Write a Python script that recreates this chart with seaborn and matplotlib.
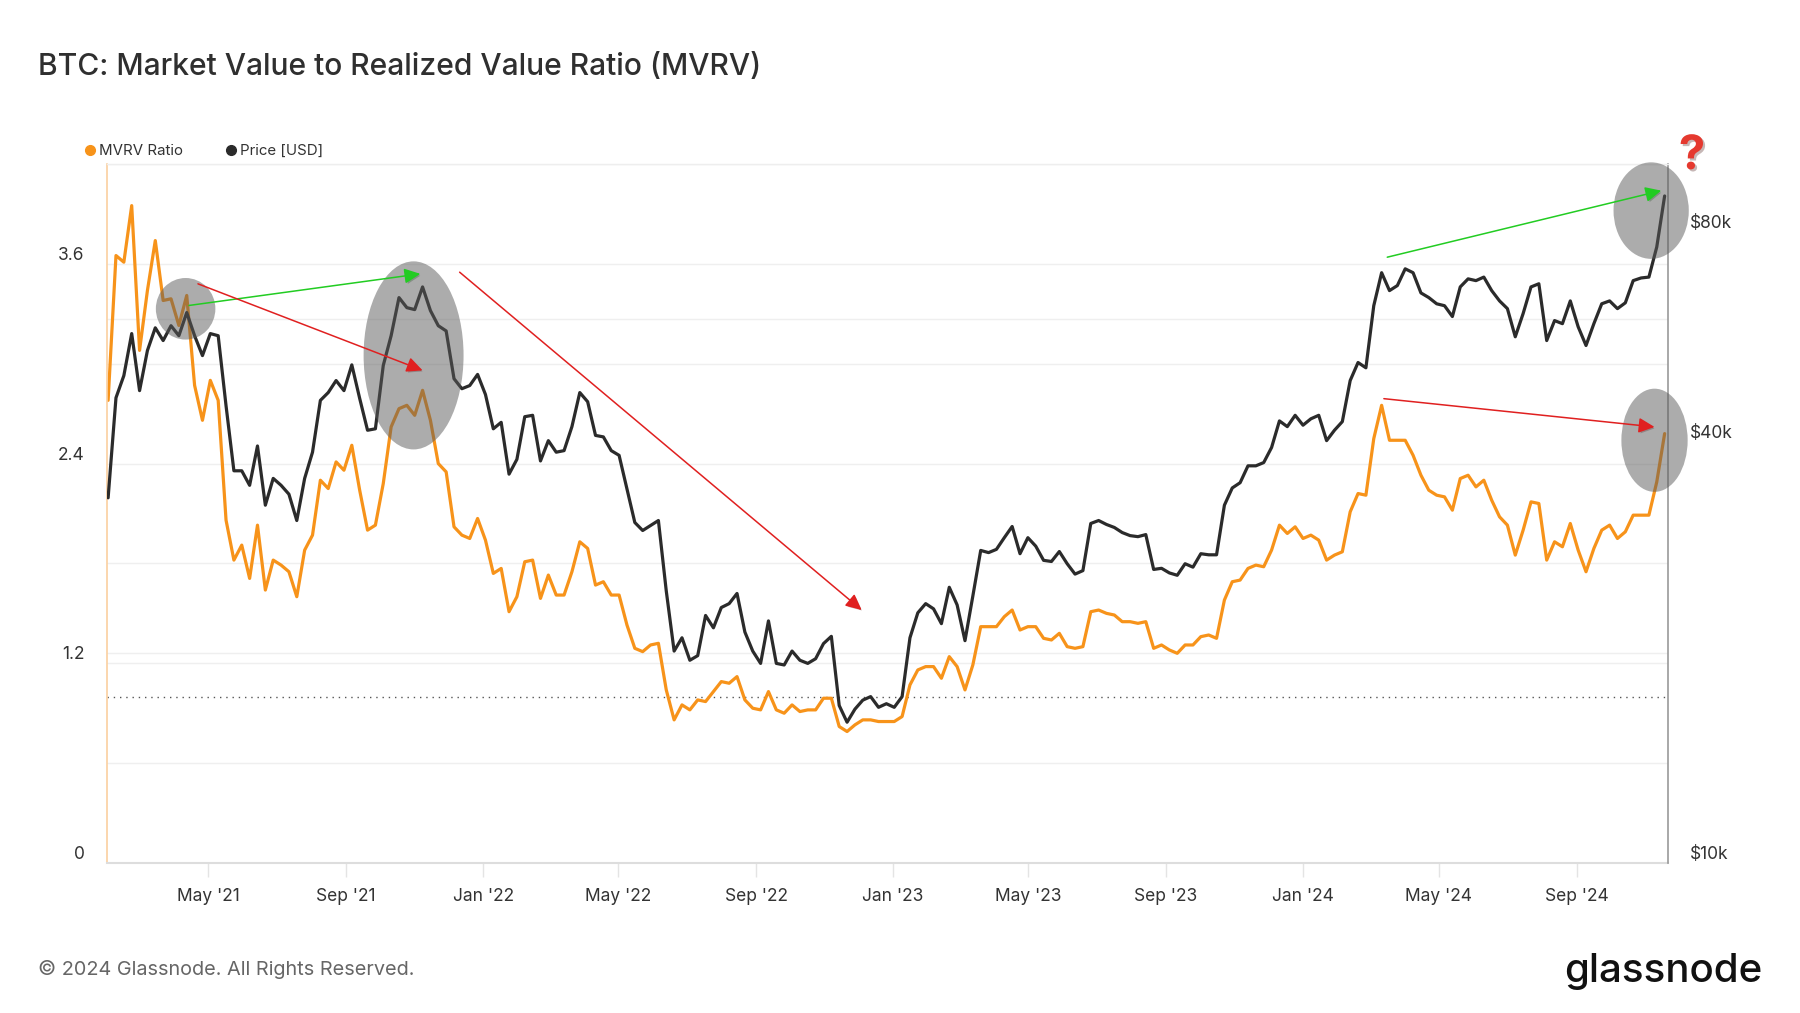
import matplotlib
matplotlib.use("Agg")
import matplotlib.pyplot as plt
import matplotlib.dates as mdates
import matplotlib.patheffects as pe
from matplotlib.patches import Ellipse, FancyArrowPatch
from matplotlib.lines import Line2D
from matplotlib.ticker import FixedLocator, NullLocator
from matplotlib.transforms import blended_transform_factory
import pandas as pd
import seaborn as sns

# weekly samples
dates = pd.date_range("2021-02-01", "2024-11-18", freq="7D")

mvrv = [
    2.78, 3.65, 3.61, 3.95, 3.08, 3.44, 3.74, 3.38, 3.39, 3.23,
    3.41, 2.87, 2.66, 2.90, 2.78, 2.06, 1.82, 1.91, 1.71, 2.03,
    1.64, 1.82, 1.79, 1.75, 1.60, 1.88, 1.97, 2.30, 2.25, 2.41,
    2.36, 2.51, 2.24, 2.00, 2.03, 2.28, 2.62, 2.73, 2.75, 2.69,
    2.84, 2.66, 2.40, 2.35, 2.02, 1.97, 1.95, 2.07, 1.94, 1.74,
    1.77, 1.51, 1.60, 1.81, 1.82, 1.59, 1.73, 1.61, 1.61, 1.75,
    1.93, 1.89, 1.67, 1.69, 1.61, 1.61, 1.43, 1.29, 1.27, 1.31,
    1.32, 1.04, 0.86, 0.95, 0.92, 0.98, 0.97, 1.03, 1.09, 1.08,
    1.12, 0.98, 0.93, 0.92, 1.03, 0.92, 0.90, 0.95, 0.91, 0.92,
    0.92, 0.99, 0.99, 0.82, 0.79, 0.83, 0.86, 0.86, 0.85, 0.85,
    0.85, 0.88, 1.07, 1.16, 1.18, 1.18, 1.11, 1.24, 1.18, 1.04,
    1.19, 1.42, 1.42, 1.42, 1.48, 1.52, 1.40, 1.42, 1.42, 1.35,
    1.34, 1.38, 1.30, 1.29, 1.30, 1.51, 1.52, 1.50, 1.49, 1.45,
    1.45, 1.44, 1.45, 1.29, 1.31, 1.28, 1.26, 1.31, 1.31, 1.36,
    1.37, 1.35, 1.58, 1.69, 1.70, 1.77, 1.79, 1.78, 1.88, 2.03,
    1.98, 2.02, 1.95, 1.97, 1.94, 1.82, 1.85, 1.87, 2.11, 2.22,
    2.21, 2.55, 2.75, 2.54, 2.54, 2.54, 2.45, 2.33, 2.24, 2.21,
    2.20, 2.12, 2.31, 2.33, 2.26, 2.30, 2.18, 2.08, 2.03, 1.85,
    2.00, 2.17, 2.16, 1.82, 1.93, 1.90, 2.04, 1.88, 1.75, 1.89,
    2.00, 2.03, 1.95, 1.99, 2.09, 2.09, 2.09, 2.29, 2.58,
]

# BTC price in thousands of USD
price_k = [
    33.3, 46.3, 49.8, 57.2, 47.4, 54.1, 58.3, 55.9, 58.7, 56.8,
    61.3, 56.8, 53.2, 57.2, 56.8, 45.1, 36.4, 36.4, 34.7, 39.5,
    32.5, 35.5, 34.7, 33.7, 30.9, 35.5, 38.7, 45.9, 47.1, 49.0,
    47.4, 51.6, 46.2, 41.6, 41.8, 51.5, 56.8, 64.4, 62.3, 61.9,
    66.7, 61.7, 58.7, 57.7, 49.3, 47.7, 48.2, 50.0, 46.8, 41.8,
    42.7, 36.0, 37.8, 43.5, 43.7, 37.6, 40.2, 38.7, 38.9, 42.1,
    47.1, 45.7, 40.9, 40.7, 38.9, 38.3, 34.3, 30.7, 29.9, 30.4,
    30.9, 24.5, 20.1, 21.0, 19.5, 19.8, 22.6, 21.7, 23.2, 23.5,
    24.3, 21.4, 20.1, 19.3, 22.2, 19.3, 19.2, 20.1, 19.5, 19.3,
    19.6, 20.6, 21.1, 16.8, 15.9, 16.6, 17.1, 17.3, 16.7, 16.9,
    16.7, 17.3, 21.0, 22.8, 23.5, 23.1, 22.0, 24.8, 23.4, 20.8,
    24.1, 28.0, 27.8, 28.1, 29.2, 30.3, 27.7, 29.2, 28.4, 27.1,
    27.0, 27.9, 26.8, 25.9, 26.2, 30.6, 30.9, 30.5, 30.2, 29.7,
    29.4, 29.3, 29.5, 26.3, 26.4, 26.0, 25.8, 26.8, 26.5, 27.7,
    27.6, 27.6, 32.5, 34.4, 35.0, 37.0, 37.0, 37.4, 39.3, 42.9,
    42.1, 43.7, 42.3, 43.2, 43.7, 40.2, 41.6, 42.8, 49.0, 52.0,
    51.1, 62.7, 69.9, 65.9, 67.0, 70.8, 69.9, 65.4, 64.4, 63.1,
    62.7, 60.5, 66.7, 68.5, 68.1, 68.9, 65.9, 63.7, 62.1, 56.6,
    61.1, 66.7, 67.4, 55.9, 59.7, 59.1, 63.7, 58.5, 55.0, 59.1,
    63.1, 63.7, 62.1, 63.3, 68.1, 68.7, 68.9, 76.1, 90.0,
]
price = [p * 1000 for p in price_k]

left_ticks = [0, 1.2, 2.4, 3.6]
left_labels = ["0", "1.2", "2.4", "3.6"]
right_ticks = [1e4, 4e4, 8e4]
right_labels = ["\\$10k", "\\$40k", "\\$80k"]
x_ticks = pd.date_range("2021-05-01", "2024-09-01", freq="4MS")

# annotations (left axis coordinates: date, MVRV)
ellipses = [("2021-04-11", 3.33, 53, 0.37), ("2021-10-31", 3.05, 89, 1.13),
            ("2024-11-06", 3.92, 67, 0.58), ("2024-11-09", 2.54, 59, 0.62)]
GREEN = "#22cc22"
RED = "#e02020"
arrows = [("2021-04-14", 3.35, "2021-11-06", 3.54, GREEN),
          ("2021-04-22", 3.48, "2021-11-08", 2.96, RED),
          ("2021-12-11", 3.55, "2022-12-04", 1.52, RED),
          ("2024-03-16", 3.64, "2024-11-15", 4.04, GREEN),
          ("2024-03-13", 2.79, "2024-11-09", 2.62, RED)]

ORANGE = "#f7931a"
BLACK = "#2b2b2b"

sns.set_theme(style="white")
plt.rcParams["font.family"] = ["Inter", "DejaVu Sans"]

W, H = 1800, 1013
fig = plt.figure(figsize=(18, 10.13), dpi=100)
ax = fig.add_axes([107 / W, 1 - 863 / H, (1668 - 107) / W, (863 - 164) / H])
ax2 = ax.twinx()

sns.lineplot(x=dates, y=mvrv, ax=ax, color=ORANGE, linewidth=2.3, estimator=None, legend=False)
sns.lineplot(x=dates, y=price, ax=ax2, color=BLACK, linewidth=2.3, estimator=None, legend=False)

ax.set_xlim(pd.Timestamp("2021-01-31"), pd.Timestamp("2024-11-21"))
ax.set_ylim(0, 4.2)
ax2.set_yscale("log")
ax2.set_ylim(1e4, 1e5)
ax.set_xlabel("")
ax.set_ylabel("")
ax2.set_ylabel("")

# left axis
ax.set_yticks(left_ticks)
ax.set_yticklabels(left_labels)
ax.yaxis.set_minor_locator(FixedLocator([0.6, 1.8, 3.0, 4.2]))
ax.grid(which="both", axis="y", color="#efefef", linewidth=1)
ax.grid(which="both", axis="x", visible=False)
ax.tick_params(axis="y", which="both", length=0, pad=16, labelsize=12.5, labelcolor="#333333")
for t in ax.get_yticklabels():
    t.set_verticalalignment("bottom")

# right axis
ax2.set_yticks(right_ticks)
ax2.set_yticklabels(right_labels)
ax2.yaxis.set_minor_locator(NullLocator())
ax2.grid(False)
ax2.tick_params(axis="y", which="both", length=0, pad=16, labelsize=12.5, labelcolor="#333333")
for t in ax2.get_yticklabels():
    t.set_verticalalignment("bottom")
# price gridlines drawn under the lines
blend = blended_transform_factory(ax.transAxes, ax2.transData)
for v in [2e4, 6e4]:
    ax.plot([0, 1], [v, v], transform=blend, color="#efefef", linewidth=1, zorder=0.5)

# x axis
ax.xaxis.set_major_locator(FixedLocator(mdates.date2num(x_ticks)))
ax.xaxis.set_major_formatter(mdates.DateFormatter("%b '%y"))
ax.tick_params(axis="x", length=10, width=1, color="#e4e4e4", pad=8, labelsize=12.5,
               labelcolor="#333333", bottom=True)

ax.axhline(1.0, color="#555555", linewidth=1, linestyle=(0, (1, 3.5)), zorder=1)

for s in ["top", "right"]:
    ax.spines[s].set_visible(False)
ax.spines["left"].set_color("#fbd0a0")
ax.spines["left"].set_linewidth(1.2)
ax.spines["bottom"].set_color("#dddddd")
ax.spines["bottom"].set_linewidth(1.5)
for s in ["left", "bottom"]:
    ax2.spines[s].set_visible(False)
ax2.spines["top"].set_color("#eeeeee")
ax2.spines["top"].set_linewidth(1)
ax2.spines["right"].set_color("#999999")
ax2.spines["right"].set_linewidth(1.2)

# highlight ellipses and arrows, drawn above both lines
for d, y, w, h in ellipses:
    e = Ellipse((mdates.date2num(pd.Timestamp(d)), y), w, h, transform=ax.transData,
                facecolor="#5a5a5a", edgecolor="none", alpha=0.5, clip_on=False, zorder=5)
    ax2.add_patch(e)
for d0, y0, d1, y1, c in arrows:
    a = FancyArrowPatch((mdates.date2num(pd.Timestamp(d0)), y0),
                        (mdates.date2num(pd.Timestamp(d1)), y1),
                        transform=ax.transData, arrowstyle="-|>,head_length=0.8,head_width=0.38",
                        mutation_scale=12, color=c, linewidth=1.1, shrinkA=0, shrinkB=0,
                        clip_on=False, zorder=6)
    a.set_path_effects([pe.SimplePatchShadow(offset=(1.2, -1.2), alpha=0.25), pe.Normal()])
    ax2.add_patch(a)

# texts
fig.text(38 / W, 1 - 67 / H, "BTC: Market Value to Realized Value Ratio (MVRV)",
         fontsize=21.6, fontweight="medium", color="#2f2f2f", va="center", ha="left")
handles = [Line2D([], [], marker="o", linestyle="", color=ORANGE, markersize=7),
           Line2D([], [], marker="o", linestyle="", color=BLACK, markersize=7)]
fig.legend(handles, ["MVRV Ratio", "Price [USD]"], loc="center left",
           bbox_to_anchor=(72 / W, 1 - 151 / H), ncol=2, frameon=False, fontsize=10.8,
           handlelength=0.6, handletextpad=0.3, columnspacing=2.9, labelcolor="#333333")
fig.text(1692 / W, 1 - 157 / H, "?", fontsize=34, fontweight="bold", color="#e5392f",
         ha="center", va="center",
         path_effects=[pe.SimplePatchShadow(offset=(1.5, -1.5), alpha=0.3), pe.Normal()])
fig.text(38 / W, 1 - 969 / H, "\u00a9 2024 Glassnode. All Rights Reserved.", fontsize=14.3,
         color="#666666", va="center", ha="left")
fig.text(1762 / W, 1 - 971 / H, "glassnode", fontsize=29, fontweight="medium", color="#111111",
         va="center", ha="right")

fig.savefig("out.png", dpi=100)
